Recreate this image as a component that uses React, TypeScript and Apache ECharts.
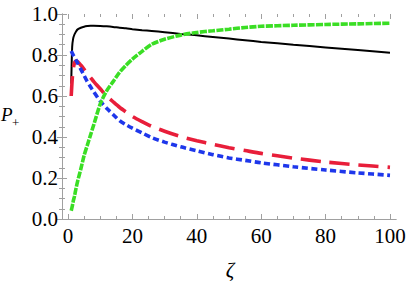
import React, { useEffect, useRef } from "react";
import * as echarts from "echarts";

const zeta = [1, 1.3, 1.6, 2, 2.5, 3, 4, 5, 6, 7, 8, 10, 12, 14, 16, 18, 20, 23, 26, 30, 35, 40, 45, 50, 55, 60, 70, 80, 90, 100];
const blackVals = [0.66, 0.84, 0.88, 0.9, 0.915, 0.925, 0.933, 0.938, 0.941, 0.943, 0.943, 0.942, 0.94, 0.937, 0.933, 0.93, 0.926, 0.921, 0.917, 0.911, 0.903, 0.896, 0.888, 0.88, 0.872, 0.864, 0.85, 0.837, 0.824, 0.811];
const redVals = [0.6, 0.68, 0.73, 0.76, 0.77, 0.768, 0.75, 0.73, 0.71, 0.69, 0.67, 0.635, 0.6, 0.572, 0.545, 0.522, 0.5, 0.475, 0.452, 0.428, 0.402, 0.382, 0.364, 0.348, 0.334, 0.32, 0.297, 0.278, 0.264, 0.252];
const blueVals = [0.82, 0.81, 0.8, 0.79, 0.775, 0.76, 0.73, 0.7, 0.67, 0.645, 0.62, 0.575, 0.54, 0.51, 0.48, 0.46, 0.443, 0.42, 0.397, 0.375, 0.352, 0.333, 0.314, 0.298, 0.286, 0.274, 0.255, 0.239, 0.225, 0.213];
const greenVals = [0.04, 0.06, 0.085, 0.11, 0.15, 0.185, 0.245, 0.31, 0.36, 0.41, 0.46, 0.56, 0.625, 0.67, 0.715, 0.75, 0.78, 0.818, 0.852, 0.877, 0.897, 0.91, 0.918, 0.926, 0.934, 0.94, 0.945, 0.949, 0.952, 0.955];

const xTicks = [0, 20, 40, 60, 80, 100];
const yTicks = [0, 0.2, 0.4, 0.6, 0.8, 1.0];

const FONT = "Liberation Serif";
const GRAY = "#a0a0a0";

function pairs(vals: number[]) {
  return zeta.map((z, i) => [z, vals[i]]);
}

export default function App() {
  const ref = useRef<HTMLDivElement>(null);
  useEffect(() => {
    if (!ref.current) return;
    const chart = echarts.init(ref.current, null, { renderer: "svg" });
    const tickCommon = {
      axisTick: { show: true, inside: true, length: 5, lineStyle: { color: GRAY, width: 1 } },
      minorTick: { show: true, splitNumber: 4, length: 3, lineStyle: { color: GRAY, width: 1 } },
      splitLine: { show: false },
      minorSplitLine: { show: false },
    };
    const lineSeries = (vals: number[], color: string, width: number, type: any, z: number) => ({
      type: "line",
      xAxisIndex: 0,
      yAxisIndex: 0,
      data: pairs(vals),
      showSymbol: false,
      symbol: "none",
      smooth: 0.25,
      z,
      lineStyle: { color, width, type, cap: "butt" },
    });
    chart.setOption({
      animation: false,
      grid: [
        { left: 68, right: 19, top: 14, bottom: 62 },
        { left: 62, right: 13, top: 14, bottom: 62 },
      ],
      xAxis: [
        {
          gridIndex: 0, type: "value", position: "bottom", min: xTicks[0], max: xTicks[xTicks.length - 1], interval: 20,
          axisLine: { show: false },
          ...tickCommon,
          axisLabel: { show: true, margin: 6, fontFamily: FONT, fontSize: 21, color: "#000", formatter: (v: number) => String(v) },
        },
        {
          gridIndex: 0, type: "value", position: "top", min: xTicks[0], max: xTicks[xTicks.length - 1], interval: 20,
          axisLine: { show: false },
          ...tickCommon,
          axisLabel: { show: false },
        },
        {
          gridIndex: 1, type: "value", position: "bottom", min: 0, max: 1,
          axisLine: { show: true, lineStyle: { color: GRAY, width: 1 } },
          axisTick: { show: false }, axisLabel: { show: false }, splitLine: { show: false },
        },
        {
          gridIndex: 1, type: "value", position: "top", min: 0, max: 1,
          axisLine: { show: true, lineStyle: { color: GRAY, width: 1 } },
          axisTick: { show: false }, axisLabel: { show: false }, splitLine: { show: false },
        },
      ],
      yAxis: [
        {
          gridIndex: 0, type: "value", min: 0, max: 1, show: false,
        },
        {
          gridIndex: 1, type: "value", position: "left", min: yTicks[0], max: yTicks[yTicks.length - 1], interval: 0.2,
          axisLine: { show: true, lineStyle: { color: GRAY, width: 1 } },
          ...tickCommon,
          axisLabel: { show: true, margin: 4, fontFamily: FONT, fontSize: 21, color: "#000", formatter: (v: number) => v.toFixed(1) },
        },
        {
          gridIndex: 1, type: "value", position: "right", min: yTicks[0], max: yTicks[yTicks.length - 1], interval: 0.2,
          axisLine: { show: true, lineStyle: { color: GRAY, width: 1 } },
          ...tickCommon,
          axisLabel: { show: false },
        },
      ],
      graphic: [
        { type: "text", x: 230, y: 270, style: { text: "ζ", fontFamily: FONT, fontSize: 21, fontStyle: "italic", fill: "#000", align: "center", verticalAlign: "middle" } },
        { type: "text", x: 1, y: 114, style: { text: "P", fontFamily: FONT, fontSize: 19, fontStyle: "italic", fill: "#000", verticalAlign: "middle" } },
        { type: "text", x: 12, y: 122, style: { text: "+", fontFamily: FONT, fontSize: 13, fill: "#000", verticalAlign: "middle" } },
      ],
      series: [
        lineSeries(blackVals, "#000000", 2, "solid", 2),
        lineSeries(redVals, "rgb(232,30,58)", 3.6, [20, 9], 3),
        lineSeries(blueVals, "rgb(30,55,235)", 3.6, [6, 3.5], 4),
        lineSeries(greenVals, "rgb(58,222,36)", 3.6, [7, 1.3], 5),
      ],
    });
    return () => chart.dispose();
  }, []);
  return <div ref={ref} style={{ position: "absolute", left: 0, top: 0, width: 409, height: 281 }} />;
}
